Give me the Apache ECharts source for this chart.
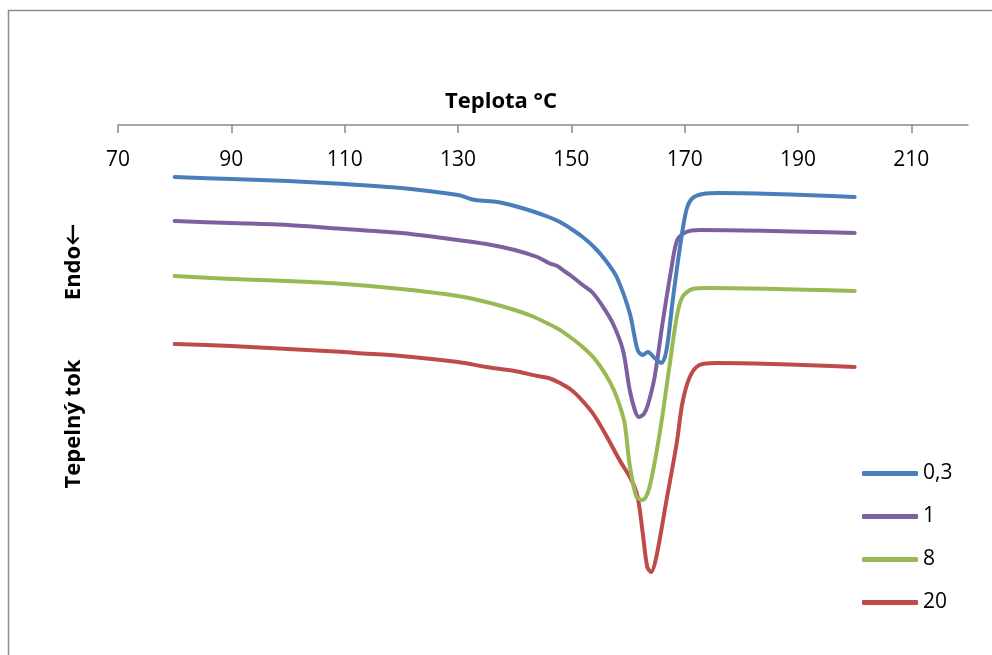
<!DOCTYPE html>
<html>
<head>
<meta charset="utf-8">
<script src="https://cdn.jsdelivr.net/npm/echarts@6/dist/echarts.min.js"></script>
<style>html,body{margin:0;padding:0;background:#fff}#c{width:992px;height:655px}</style>
</head>
<body>
<div id="c"></div>
<script>
// Tick labels of the temperature axis
const xTicks = [70, 90, 110, 130, 150, 170, 190, 210];
const seriesNames = ['0,3', '1', '8', '20'];

// Series 0,3
const t03 = [80, 90, 100, 110, 120, 130, 133, 137, 140, 143, 146, 148, 150, 152, 154, 156, 158, 160.3, 161.7, 162.6, 163.5, 164.7, 165.9, 166.8, 167.9, 169.1, 170.3, 171.4, 173.2, 176, 200];
const v03 = [4.43, 4.41, 4.39, 4.36, 4.32, 4.25, 4.20, 4.18, 4.14, 4.09, 4.03, 3.98, 3.91, 3.83, 3.73, 3.60, 3.43, 3.07, 2.70, 2.65, 2.68, 2.62, 2.57, 2.70, 3.20, 3.70, 4.10, 4.22, 4.26, 4.27, 4.23];

// Series 1
const t1 = [80, 90, 100, 110, 120, 130, 135, 140, 144, 146, 147.5, 149, 150, 152, 153.8, 155.5, 157.3, 159.1, 160.3, 161.2, 161.9, 162.8, 163.5, 164.7, 166.1, 167.7, 168.7, 170.3, 172.6, 200];
const v1 = [3.99, 3.97, 3.95, 3.91, 3.87, 3.80, 3.76, 3.70, 3.63, 3.57, 3.54, 3.48, 3.44, 3.35, 3.27, 3.14, 2.97, 2.70, 2.30, 2.10, 2.03, 2.06, 2.15, 2.43, 2.97, 3.53, 3.80, 3.88, 3.90, 3.87];

// Series 8
const t8 = [80, 90, 100, 110, 120, 130, 135, 140, 143, 146, 148, 150, 152, 154, 156, 157.5, 158.5, 159.4, 160.3, 161.5, 162.6, 163.8, 165.6, 167.3, 168.6, 169.6, 171.4, 173.9, 200];
const v8 = [3.44, 3.41, 3.39, 3.36, 3.31, 3.24, 3.18, 3.10, 3.04, 2.96, 2.90, 2.82, 2.73, 2.62, 2.46, 2.30, 2.15, 1.97, 1.55, 1.23, 1.20, 1.33, 1.87, 2.53, 3.03, 3.23, 3.31, 3.32, 3.29];

// Series 20
const t20 = [80, 90, 100, 110, 112, 120, 130, 135, 140, 144, 146, 148, 150, 152, 154, 156.2, 158.5, 160.6, 161.7, 162.6, 163.4, 164.1, 165, 166.8, 168.6, 169.6, 170.9, 172.6, 175.6, 200];
const v20 = [2.76, 2.74, 2.71, 2.68, 2.67, 2.64, 2.58, 2.53, 2.49, 2.44, 2.42, 2.37, 2.30, 2.19, 2.05, 1.84, 1.60, 1.40, 1.23, 0.87, 0.53, 0.48, 0.63, 1.20, 1.77, 2.17, 2.43, 2.55, 2.57, 2.53];

const colors = ['#4A7EBB', '#7E60A0', '#98B954', '#BE4B48'];
const temps = [t03, t1, t8, t20];
const vals = [v03, v1, v8, v20];

const FONT = '"Open Sans", Lato, sans-serif';
const chart = echarts.init(document.getElementById('c'), null, {renderer: 'canvas'});

const series = seriesNames.map((name, i) => ({
  name: name,
  type: 'line',
  data: temps[i].map((t, k) => [t, vals[i][k]]),
  showSymbol: false,
  symbol: 'none',
  smooth: 0.3,
  lineStyle: {color: colors[i], width: 4, cap: 'round', join: 'round'},
  itemStyle: {color: colors[i]},
  emphasis: {disabled: true},
  z: 10 - i
}));

chart.setOption({
  animation: false,
  backgroundColor: '#fff',
  grid: {left: 118, right: 24, top: 125, bottom: 35, containLabel: false},
  xAxis: {
    type: 'value',
    position: 'top',
    min: 70,
    max: 220,
    interval: 10,
    axisLine: {show: true, onZero: false, lineStyle: {color: '#8a8a8a', width: 1.5}},
    axisTick: {show: true, inside: true, length: 8, customValues: xTicks, lineStyle: {color: '#8a8a8a', width: 1.5}},
    axisLabel: {show: true, inside: true, margin: 25, customValues: xTicks, color: '#000', fontSize: 21, fontFamily: FONT},
    splitLine: {show: false}
  },
  yAxis: {
    type: 'value',
    min: 0,
    max: 4.95,
    show: false,
    splitLine: {show: false}
  },
  legend: {
    orient: 'vertical',
    left: 857,
    top: 458,
    itemWidth: 56,
    itemHeight: 5,
    itemGap: 22,
    icon: 'roundRect',
    textStyle: {color: '#000', fontSize: 21, fontFamily: FONT, padding: [0, 0, 0, 0]},
    data: seriesNames
  },
  graphic: [
    {type: 'rect', shape: {x: 8.5, y: 10.5, width: 1100, height: 800}, style: {fill: 'none', stroke: '#8c8c8c', lineWidth: 1.5}, silent: true, z: -1},
    {type: 'text', x: 501, y: 102, style: {text: 'Teplota °C', font: 'bold 22px ' + FONT, fill: '#000', align: 'center', verticalAlign: 'middle'}},
    {type: 'text', x: 74, y: 424, rotation: Math.PI / 2, style: {text: 'Tepelný tok', font: 'bold 22px ' + FONT, fill: '#000', align: 'center', verticalAlign: 'middle'}},
    {type: 'text', x: 74, y: 262, rotation: Math.PI / 2, style: {text: 'Endo←', font: 'bold 22px ' + FONT, fill: '#000', align: 'center', verticalAlign: 'middle'}}
  ],
  series: series
});
</script>
</body>
</html>
